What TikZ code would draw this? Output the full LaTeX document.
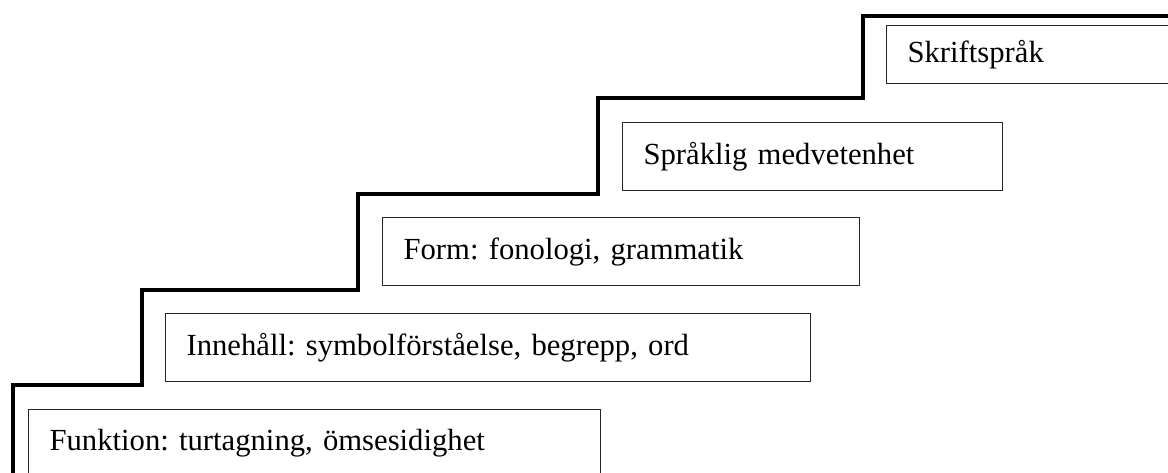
\documentclass[tikz,border=0pt]{standalone}
\usepackage{fontspec}
\setmainfont{Liberation Serif}
\usetikzlibrary{positioning}
\frenchspacing

\begin{document}
\begin{tikzpicture}[
			x=0.75pt, y=-0.75pt,
			stairbox/.style={rectangle, draw=black!85, line width=0.9pt, anchor=north west, align=left, inner xsep=15.75pt, minimum height=51pt, font=\fontsize{23}{27}\selectfont},
			stair/.style={line width=3pt, line join=miter},
			]
			\useasboundingbox (0,0) rectangle (1168,472);
			\node (funktion) [stairbox, text width=397.5pt] at (28,409) {Funktion: turtagning, ömsesidighet};
			\node (innehall) [stairbox, text width=452.25pt] at (165,313) {Innehåll: symbolförståelse, begrepp, ord};
			\node (form) [stairbox, text width=326.25pt] at (382,217) {Form: fonologi, grammatik};
			\node (medveten) [stairbox, text width=253.5pt] at (622,122) {Språklig medvetenhet};
			\node (skrift) [stairbox, text width=196.5pt, minimum height=43.5pt] at (886,25) {Skriftspråk};
			
			% the staircase
			\draw[stair] (13,480) |- (142,385) |- (358,290) |- (598,194) |- (863,98) |- (1180,16);
		\end{tikzpicture}
\end{document}
